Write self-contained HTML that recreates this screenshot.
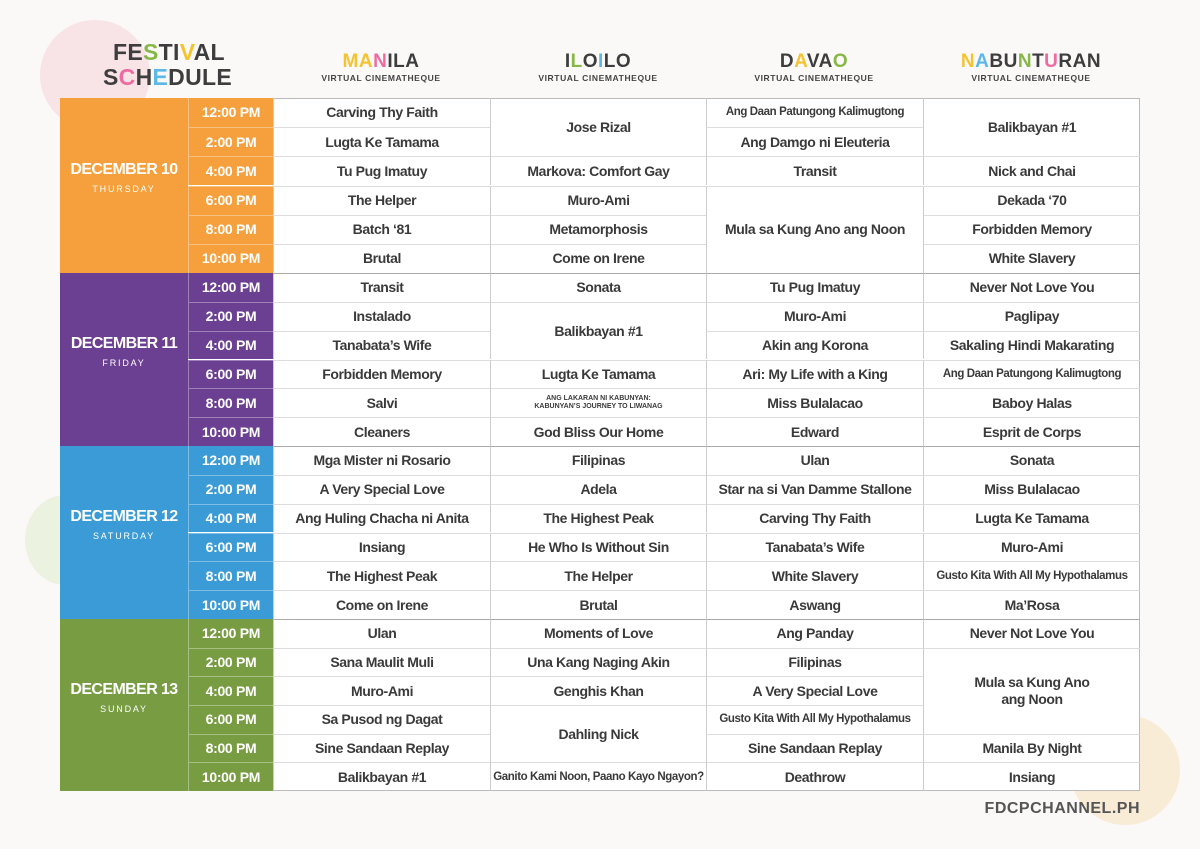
<!DOCTYPE html>
<html><head><meta charset="utf-8"><style>
body{margin:0;width:1200px;height:849px;overflow:hidden;background:#fbf8f8;font-family:"Liberation Sans",sans-serif;position:relative}
.a{position:absolute}
.c{position:absolute;display:flex;align-items:center;justify-content:center;text-align:center;font-weight:bold;color:#3a3a3a;font-size:14px;letter-spacing:-0.4px;box-sizing:border-box;line-height:17px}
.t{color:#fff;font-size:14px;letter-spacing:-0.3px}
.h{font-weight:900;color:#3d3d3d;letter-spacing:1px}
.sub{font-size:8.5px;font-weight:bold;color:#444;letter-spacing:0.6px}
</style></head><body>
<div class="a" style="left:40px;top:20px;width:110px;height:110px;border-radius:50%;background:#f6d6dc;opacity:.6"></div>
<div class="a" style="left:1070px;top:715px;width:110px;height:110px;border-radius:50%;background:#f8e7c8;opacity:.7"></div>
<div class="a" style="left:25px;top:495px;width:80px;height:90px;border-radius:50%;background:#e6efd5;opacity:.7"></div>
<div class="a h" style="left:113px;top:40px;font-size:23px;line-height:24px;letter-spacing:0.3px">FE<span style="color:#86b848">S</span>TI<span style="color:#f4c430">V</span>AL</div>
<div class="a h" style="left:103px;top:65px;font-size:23px;line-height:24px;letter-spacing:0.3px">S<span style="color:#ef6aa0">C</span>H<span style="color:#5bb8e8">E</span>DULE</div>
<div id="hdr"></div>
<div id="tb" class="a" style="left:60px;top:98px;width:1080px;height:693px;background:#fff;border:1px solid #bbb;box-sizing:border-box"></div>
<div class="a" style="left:960px;top:800px;width:180px;text-align:right;font-weight:900;font-size:16px;color:#555;letter-spacing:0.5px">FDCPCHANNEL.PH</div>
<script>
const names=[["<span style='color:#f4c430'>MA</span><span style='color:#ef6aa0'>N</span>ILA",381],["I<span style='color:#86b848'>L</span>O<span style='color:#5bb8e8'>I</span>LO",598],["D<span style='color:#f4c430'>A</span>VA<span style='color:#86b848'>O</span>",814],["<span style='color:#f4c430'>N</span><span style='color:#5bb8e8'>A</span>BU<span style='color:#86b848'>N</span>T<span style='color:#ef6aa0'>U</span>RAN",1031]];
let H="";
names.forEach(n=>{H+=`<div class="a h" style="left:${n[1]-110}px;width:220px;text-align:center;top:51px;font-size:19px;letter-spacing:0.5px">${n[0]}</div><div class="a sub" style="left:${n[1]-110}px;width:220px;text-align:center;top:73px">VIRTUAL CINEMATHEQUE</div>`});
document.getElementById('hdr').innerHTML=H;
const days=[["DECEMBER 10","THURSDAY","#f5a03c",98],["DECEMBER 11","FRIDAY","#6b3f91",273],["DECEMBER 12","SATURDAY","#3a9bd6",446],["DECEMBER 13","SUNDAY","#789c42",619],[0,0,0,791]];
const times=["12:00 PM","2:00 PM","4:00 PM","6:00 PM","8:00 PM","10:00 PM"];
const S="s";
const data=[
[["Carving Thy Faith","Lugta Ke Tamama","Tu Pug Imatuy","The Helper","Batch ‘81","Brutal"],
 [["Jose Rizal",2],"Markova: Comfort Gay","Muro-Ami","Metamorphosis","Come on Irene"],
 [["Ang Daan Patungong Kalimugtong",1,S],"Ang Damgo ni Eleuteria","Transit",["Mula sa Kung Ano ang Noon",3]],
 [["Balikbayan #1",2],"Nick and Chai","Dekada ‘70","Forbidden Memory","White Slavery"]],
[["Transit","Instalado","Tanabata’s Wife","Forbidden Memory","Salvi","Cleaners"],
 ["Sonata",["Balikbayan #1",2],"Lugta Ke Tamama",["ANG LAKARAN NI KABUNYAN:<br>KABUNYAN’S JOURNEY TO LIWANAG",1,"x"],"God Bliss Our Home"],
 ["Tu Pug Imatuy","Muro-Ami","Akin ang Korona","Ari: My Life with a King","Miss Bulalacao","Edward"],
 ["Never Not Love You","Paglipay","Sakaling Hindi Makarating",["Ang Daan Patungong Kalimugtong",1,S],"Baboy Halas","Esprit de Corps"]],
[["Mga Mister ni Rosario","A Very Special Love","Ang Huling Chacha ni Anita","Insiang","The Highest Peak","Come on Irene"],
 ["Filipinas","Adela","The Highest Peak","He Who Is Without Sin","The Helper","Brutal"],
 ["Ulan","Star na si Van Damme Stallone","Carving Thy Faith","Tanabata’s Wife","White Slavery","Aswang"],
 ["Sonata","Miss Bulalacao","Lugta Ke Tamama","Muro-Ami",["Gusto Kita With All My Hypothalamus",1,S],"Ma’Rosa"]],
[["Ulan","Sana Maulit Muli","Muro-Ami","Sa Pusod ng Dagat","Sine Sandaan Replay","Balikbayan #1"],
 ["Moments of Love","Una Kang Naging Akin","Genghis Khan",["Dahling Nick",2],["Ganito Kami Noon, Paano Kayo Ngayon?",1,S]],
 ["Ang Panday","Filipinas","A Very Special Love",["Gusto Kita With All My Hypothalamus",1,S],"Sine Sandaan Replay","Deathrow"],
 ["Never Not Love You",["Mula sa Kung Ano<br>ang Noon",3],"Manila By Night","Insiang"]]];
const cols=[273,490,706,923,1140];
let T="";
for(let d=0;d<4;d++){
 const y0=days[d][3],y1=days[d+1][3],rh=(y1-y0)/6,col=days[d][2];
 T+=`<div class="c" style="left:60px;top:${y0}px;width:128px;height:${y1-y0}px;background:${col};color:#fff;flex-direction:column"><div style="font-size:16px;letter-spacing:-0.6px;margin-top:-12px">${days[d][0]}</div><div style="font-size:9px;font-weight:normal;letter-spacing:1.8px;margin-top:3px">${days[d][1]}</div></div>`;
 for(let r=0;r<6;r++){
  T+=`<div class="c t" style="left:188px;top:${y0+r*rh}px;width:85px;height:${rh}px;background:${col};${r?'border-top:1px solid rgba(255,255,255,.35);':''}border-left:1px solid rgba(255,255,255,.35)">${times[r]}</div>`;
 }
 for(let c=0;c<4;c++){
  let r=0;
  data[d][c].forEach(it=>{
   let txt=it,sp=1,sm="";if(Array.isArray(it)){txt=it[0];sp=it[1];sm=it[2]||""}
   let fs=sm==S?"font-size:11.5px;":sm=="x"?"font-size:7px;line-height:8px;letter-spacing:0;":"";
   T+=`<div class="c" style="left:${cols[c]}px;top:${y0+r*rh}px;width:${cols[c+1]-cols[c]}px;height:${sp*rh}px;${fs}border-left:1px solid #ccc;${r?'border-top:1px solid #ddd;':(d?'border-top:1px solid #aaa;':'')}">${txt}</div>`;
   r+=sp;
  });
 }
}
document.getElementById('tb').outerHTML+=T;
</script>
</body></html>
